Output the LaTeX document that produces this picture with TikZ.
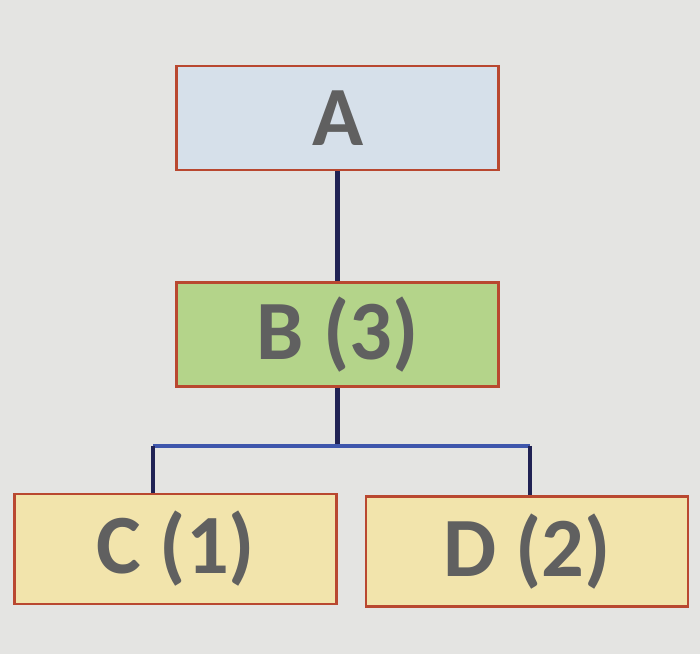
\documentclass[tikz,border=0pt]{standalone}
\usepackage{fontspec}
\setmainfont{Carlito}
\usetikzlibrary{positioning}
\definecolor{paper}{RGB}{228,228,226}
\definecolor{edge}{RGB}{185,72,48}
\definecolor{topfill}{RGB}{214,224,234}
\definecolor{midfill}{RGB}{180,212,138}
\definecolor{leaffill}{RGB}{242,228,172}
\definecolor{ink}{RGB}{96,96,96}
\definecolor{navy}{RGB}{32,34,84}
\definecolor{barblue}{RGB}{62,86,172}

\begin{document}
\begin{tikzpicture}[node distance=2.7cm]
\tikzstyle{box} = [rectangle, minimum width=8.05cm, minimum height=2.6cm, text centered, draw=edge, line width=1.8pt, text=ink, font=\fontsize{60}{60}\selectfont\bfseries]
\tikzstyle{root} = [box, fill=topfill]
\tikzstyle{mid} = [box, fill=midfill]
\tikzstyle{leaf} = [box, fill=leaffill, minimum width=8.05cm, minimum height=2.75cm]
\tikzstyle{link} = [navy, line width=3pt]
\tikzstyle{bar} = [barblue, line width=3pt]
 % background of the page
\fill[paper] (0,0) rectangle (17.5,16.35);
\useasboundingbox (0,0) rectangle (17.5,16.35);
 % boxes
\node (a) [root] at (8.44,13.4) {A};
\node (b) [mid, below=2.75cm of a] {B (3)};
\node (c) [leaf, below=2.62cm of b, xshift=-4.05cm] {C (1)};
\node (d) [leaf, below=2.68cm of b, xshift=4.74cm] {D (2)};
\coordinate (split) at ([yshift=-1.45cm]b.south);
\coordinate (cdrop) at ([xshift=-0.56cm]c.north);
\coordinate (ddrop) at ([xshift=0.07cm]d.north);
 % connectors
\draw [link] (a) -- (b);
\draw [link] (b) -- (split);
\draw [bar] (cdrop |- split) -- (ddrop |- split);
\draw [link] (cdrop |- split) -- (cdrop);
\draw [link] (ddrop |- split) -- (ddrop);
\end{tikzpicture}
\end{document}
